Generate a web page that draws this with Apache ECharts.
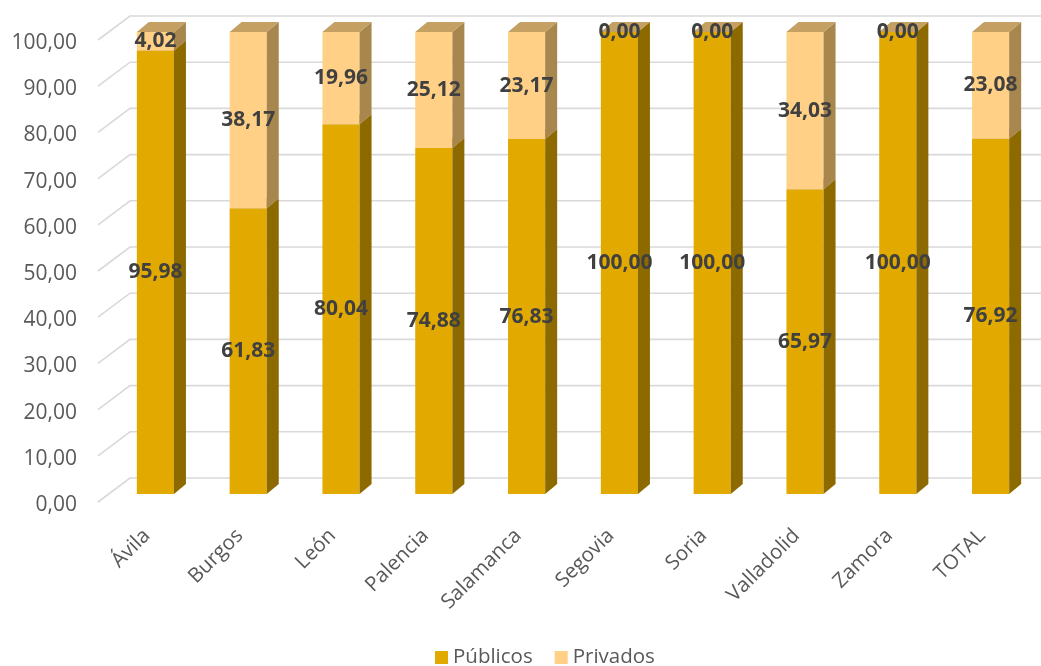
<!DOCTYPE html>
<html>
<head>
<meta charset="utf-8">
<script src="https://cdn.jsdelivr.net/npm/echarts@6/dist/echarts.min.js"></script>
<style>
html,body{margin:0;padding:0;background:#fff;}
#chart{width:1041px;height:666px;}
</style>
</head>
<body>
<div id="chart"></div>
<script>
const categories = ['Ávila','Burgos','León','Palencia','Salamanca','Segovia','Soria','Valladolid','Zamora','TOTAL'];
const publicos = [95.98, 61.83, 80.04, 74.88, 76.83, 100.00, 100.00, 65.97, 100.00, 76.92];
const privados = [4.02, 38.17, 19.96, 25.12, 23.17, 0.00, 0.00, 34.03, 0.00, 23.08];
const yTicks = [0, 10, 20, 30, 40, 50, 60, 70, 80, 90, 100];

const FONT = '"Open Sans", "Liberation Sans", sans-serif';
const fmt = v => v.toFixed(2).replace('.', ',');

const colPub = {front: '#E2A900', side: '#8C6A00', top: '#B8964F'};
const colPriv = {front: '#FFD085', side: '#A8874F', top: '#C4A062'};

function makeRender(c) {
  return function (params, api) {
    const i = api.value(0), b = api.value(1), t = api.value(2);
    const p0 = api.coord([i, b]), p1 = api.coord([i, t]);
    const w = api.size([1, 0])[0] * 0.4;
    const x0 = p0[0] - w / 2, x1 = x0 + w;
    const yb = p0[1], yt = p1[1];
    const dx = 12, dy = -10;
    return {
      type: 'group',
      children: [
        {type: 'rect', shape: {x: x0, y: yt, width: w, height: yb - yt}, style: {fill: c.front}},
        {type: 'polygon', shape: {points: [[x1, yb], [x1 + dx, yb + dy], [x1 + dx, yt + dy], [x1, yt]]}, style: {fill: c.side}},
        {type: 'polygon', shape: {points: [[x0, yt], [x1, yt], [x1 + dx, yt + dy], [x0 + dx, yt + dy]]}, style: {fill: c.top}},
        {type: 'text', z2: 100, style: {x: (x0 + x1) / 2, y: (yt + yb) / 2, text: fmt(t - b), fill: '#404040',
          fontSize: 21, fontWeight: 'bold', fontFamily: FONT, align: 'center', verticalAlign: 'middle'}}
      ]
    };
  };
}

const chart = echarts.init(document.getElementById('chart'), null, {renderer: 'canvas'});
chart.setOption({
  animation: false,
  backgroundColor: '#ffffff',
  grid: {left: 109, right: 4, top: 32, bottom: 172, containLabel: false},
  legend: {
    data: ['Públicos', 'Privados'],
    left: 430, top: 642,
    icon: 'rect', itemWidth: 13, itemHeight: 13, itemGap: 22,
    textStyle: {fontSize: 20.5, color: '#595959', fontFamily: FONT}
  },
  xAxis: {
    type: 'category', data: categories,
    axisLine: {show: false}, axisTick: {show: false},
    axisLabel: {rotate: 45, margin: 30, interval: 0,
      formatter: v => '{a|' + v + '}',
      rich: {a: {fontSize: 20.5, color: '#595959', fontFamily: FONT, padding: [0, 12, 0, 0]}}}
  },
  yAxis: {
    type: 'value', min: 0, max: 100, interval: 10,
    axisLine: {show: false}, axisTick: {show: false}, splitLine: {show: false},
    axisLabel: {margin: 32, fontSize: 21, color: '#595959', fontFamily: FONT,
      verticalAlign: 'top', lineHeight: 22,
      formatter: v => fmt(v)}
  },
  series: [
    {
      type: 'custom', name: 'walls', silent: true,
      data: yTicks.map(v => [0, v]),
      encode: {x: 0, y: 1},
      renderItem: function (params, api) {
        const y = api.coord([0, api.value(1)])[1];
        const cs = params.coordSys;
        return {
          type: 'polyline',
          shape: {points: [[cs.x - 11, y + 8], [cs.x + 21, y - 16], [cs.x + cs.width + 40, y - 16]]},
          style: {stroke: '#D9D9D9', lineWidth: 1.6, fill: null}
        };
      },
      clip: false
    },
    {
      type: 'custom', name: 'Públicos',
      itemStyle: {color: colPub.front},
      data: publicos.map((v, i) => [i, 0, v]),
      encode: {x: 0, y: [1, 2]},
      renderItem: makeRender(colPub), clip: false
    },
    {
      type: 'custom', name: 'Privados',
      itemStyle: {color: colPriv.front},
      data: privados.map((v, i) => [i, publicos[i], publicos[i] + v]),
      encode: {x: 0, y: [1, 2]},
      renderItem: makeRender(colPriv), clip: false
    }
  ]
});
</script>
</body>
</html>
